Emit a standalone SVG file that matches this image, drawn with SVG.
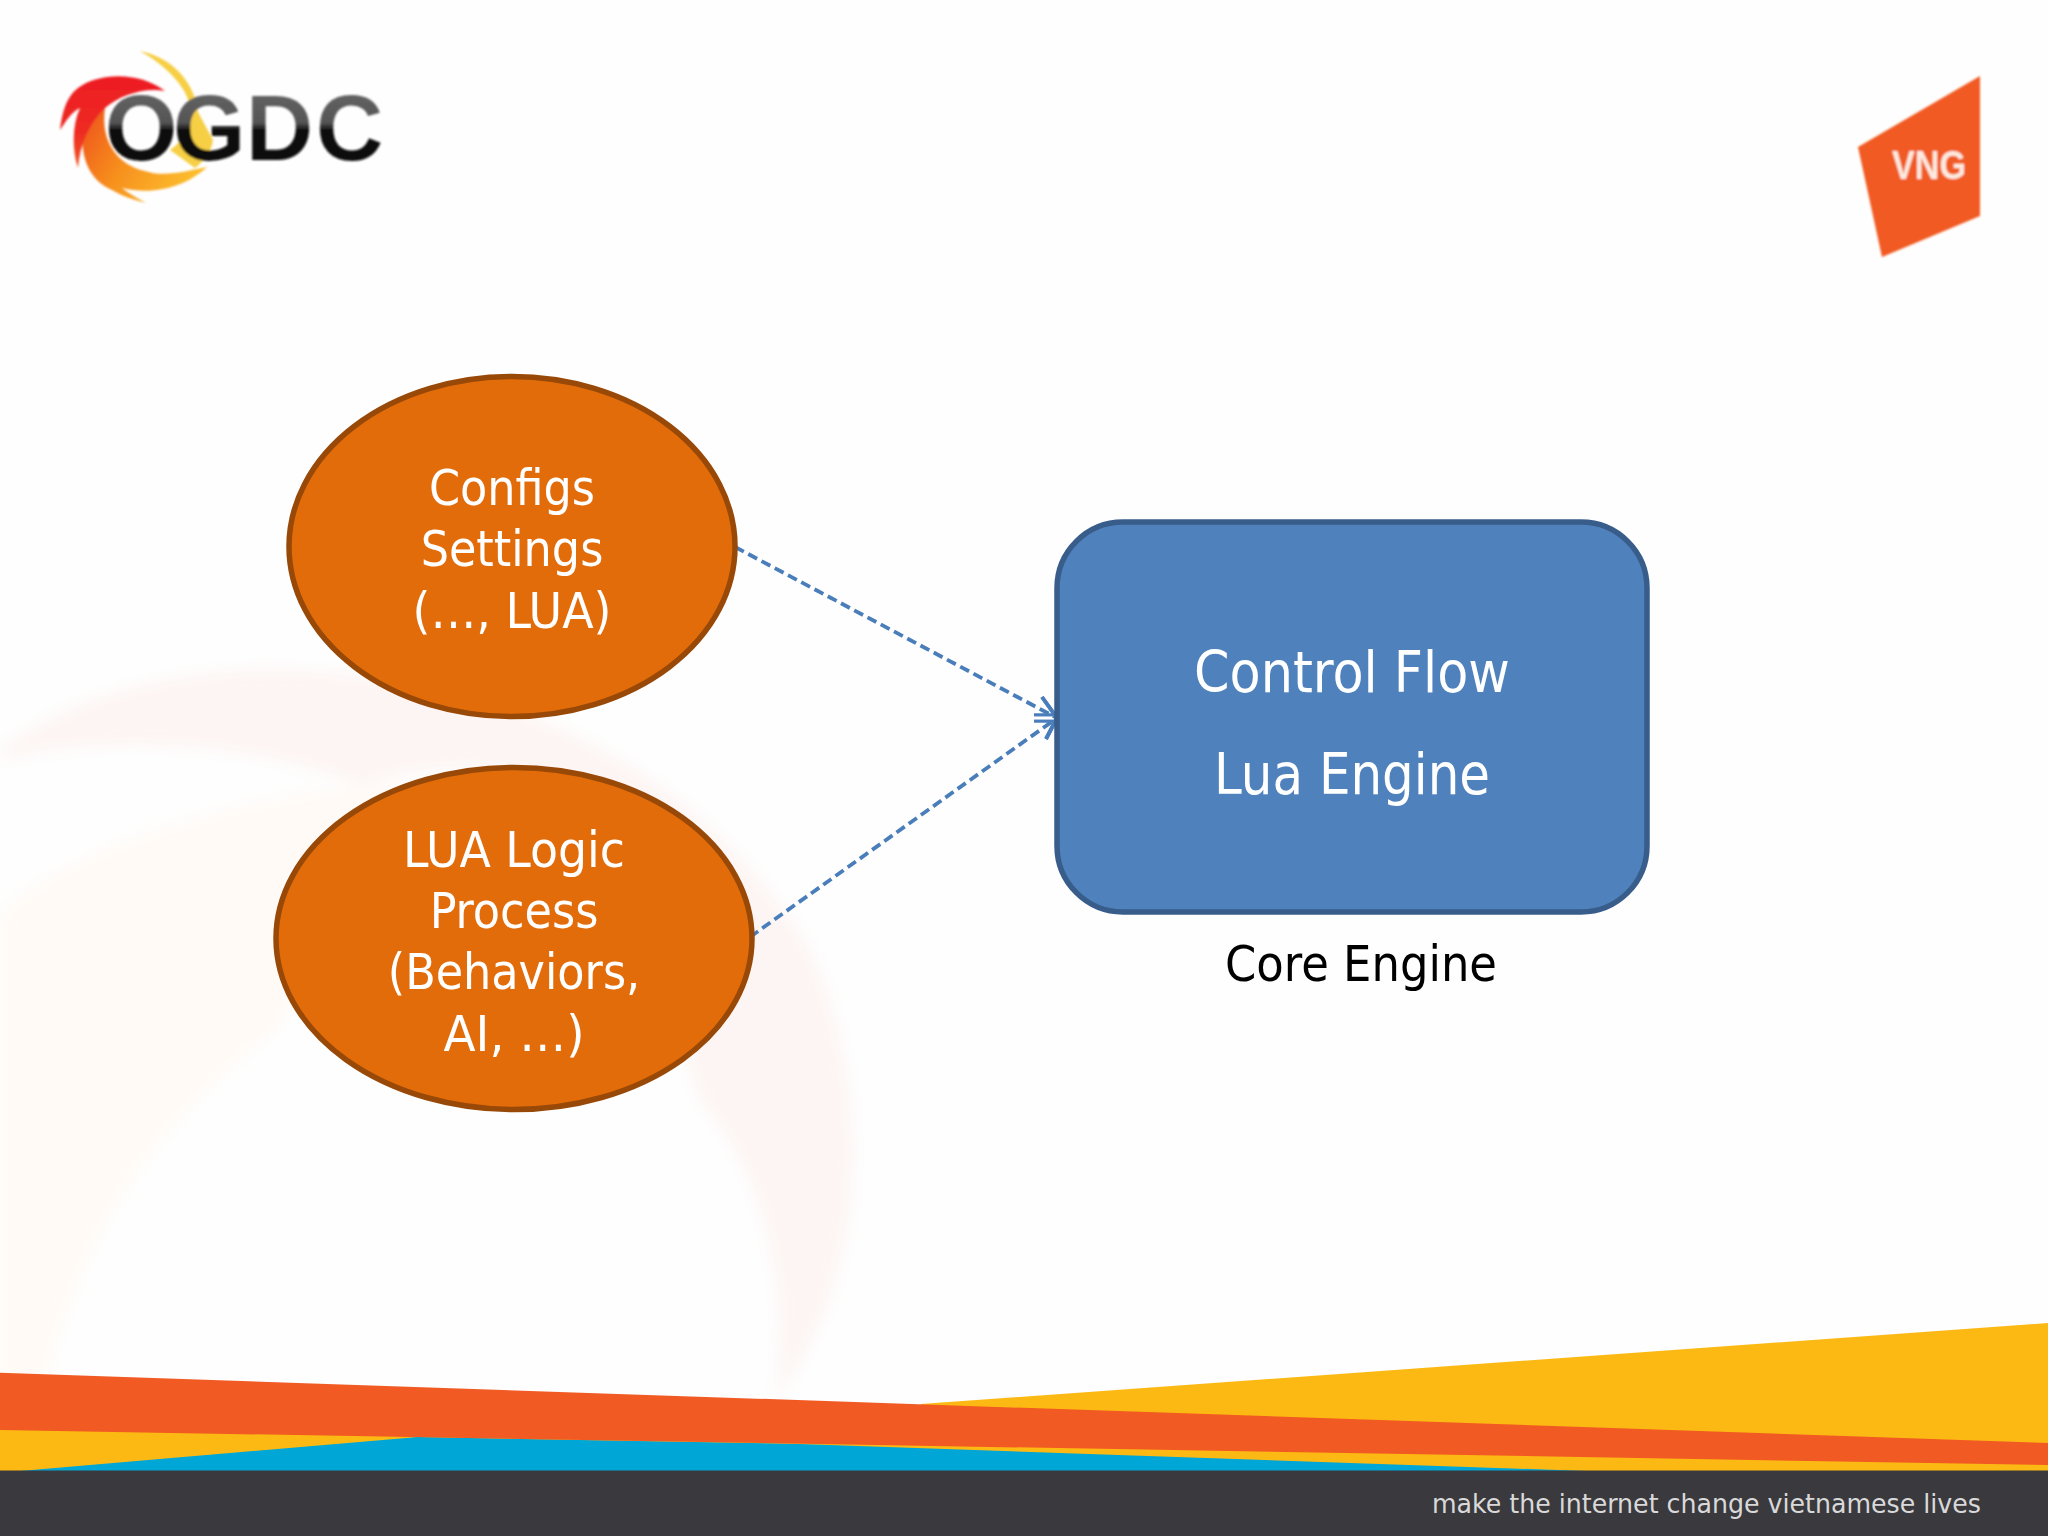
<svg xmlns="http://www.w3.org/2000/svg" width="2048" height="1536" viewBox="0 0 2048 1536">
<style>
.n{font-family:"DejaVu Sans Condensed","DejaVu Sans","Liberation Sans",sans-serif;text-anchor:middle;fill:#fff}
.o{fill:#e36c0a;stroke:#984807;stroke-width:5.5}
.e{font-size:49.5px}
.r{font-size:56.5px}
.c{stroke:#4a7ebb;stroke-width:3.8;stroke-dasharray:10 5;fill:none;marker-end:url(#head)}
</style>
<defs>
<marker id="head" markerUnits="userSpaceOnUse" markerWidth="40" markerHeight="50" viewBox="-30 -25 40 50" refX="0" refY="0" orient="0" overflow="visible">
<path d="M-15,-21 L0,0 L-11,21" fill="none" stroke="#4a7ebb" stroke-width="3.8"/>
<path d="M-23,-3.2 H-2 M-23,3.2 H-2" fill="none" stroke="#4a7ebb" stroke-width="2.8"/>
</marker>
<linearGradient id="ink" x1="0" y1="0" x2="0" y2="1"><stop offset="0" stop-color="#6a6a6a"/><stop offset="0.45" stop-color="#555"/><stop offset="0.52" stop-color="#111"/><stop offset="1" stop-color="#0c0c0c"/></linearGradient>
<linearGradient id="swirl" x1="0" y1="0" x2="1" y2="0.5"><stop offset="0" stop-color="#ee4f1f"/><stop offset="0.5" stop-color="#f7901e"/><stop offset="1" stop-color="#fcbc2c"/></linearGradient>
<linearGradient id="flare" x1="0" y1="0" x2="0" y2="1"><stop offset="0" stop-color="#ed1c24"/><stop offset="0.6" stop-color="#ee2b24"/><stop offset="1" stop-color="#f15a22"/></linearGradient>
<filter id="soft" x="-10%" y="-10%" width="120%" height="120%"><feGaussianBlur stdDeviation="1"/></filter>
<filter id="haze" x="-10%" y="-10%" width="120%" height="120%"><feGaussianBlur stdDeviation="8"/></filter>
</defs>
<rect width="2048" height="1536" fill="#fefefe"/>
<g id="background" filter="url(#haze)">
<path d="M0,750 C80,690 200,660 330,672 C560,690 720,800 810,950 C870,1080 875,1270 775,1400 C790,1300 770,1180 700,1100 L600,800 C520,760 440,760 360,785 C250,740 100,735 0,760Z" fill="#fdf5f3"/>
<path d="M0,915 C60,860 180,810 360,785 L440,790 L275,1030 C130,1140 75,1260 40,1400 L0,1400Z" fill="#fffaf5"/>
</g>
<g id="ogdc-logo" filter="url(#soft)">
<path d="M140,51 C175,58 195,85 198,112 L213,140 C212,150 205,160 195,168 L170,150 C185,140 192,125 190,105 C185,85 165,65 140,51Z" fill="#f6cf45"/>
<path d="M83,133 C80,160 92,182 112,190 C122,196 134,200 146,203 C137,198 128,193 122,188 C155,196 187,186 207,167 C190,170 165,178 145,171 C118,165 100,142 105,108 C92,112 85,122 83,133Z" fill="url(#swirl)"/>
<path d="M165,91 C140,72 100,72 78,88 C65,98 62,115 60,130 C68,118 72,112 80,108 C72,125 72,150 78,168 C80,145 88,125 105,108 C120,95 145,87 165,91Z" fill="url(#flare)"/>
<text y="160" x="105 173 246 316" font-family="'Liberation Sans',sans-serif" font-weight="700" font-size="93" fill="url(#ink)">OGDC</text>
</g>
<g id="vng-logo" filter="url(#soft)">
<polygon points="1858,147 1980,76 1980,216 1882,257" fill="#f15a22"/>
<text x="1892" y="179" font-family="'Liberation Sans',sans-serif" font-weight="700" font-size="41" fill="#fdeadf" textLength="74" lengthAdjust="spacingAndGlyphs">VNG</text>
</g>
<g id="footer">
<polygon points="921,1404 2048,1323 2048,1450 921,1420" fill="#fdb913"/>
<polygon points="0,1425 1000,1440 2048,1460 2048,1471 0,1471" fill="#fdb913"/>
<polygon points="20,1471 418,1437 800,1444 1586,1471" fill="#00a6d6"/>
<polygon points="0,1372.7 2048,1443 2048,1465 0,1430" fill="#f15a22"/>
<rect y="1470.5" width="2048" height="65.5" fill="#3a3a3e"/>
<text x="1432" y="1513" font-family="'DejaVu Sans Condensed','DejaVu Sans',sans-serif" font-size="27" fill="#d9d9d9" textLength="549" lengthAdjust="spacingAndGlyphs">make the internet change vietnamese lives</text>
</g>
<g id="connectors">
<line class="c" x1="735" y1="547" x2="1057" y2="718"/>
<line class="c" x1="750" y1="937" x2="1057" y2="718"/>
</g>
<g id="node-configs">
<ellipse class="o" cx="512" cy="546.5" rx="223" ry="170"/>
<text class="n e" x="512" y="505">Configs</text>
<text class="n e" x="512" y="566">Settings</text>
<text class="n e" x="512" y="628" textLength="199" lengthAdjust="spacingAndGlyphs">(…, LUA)</text>
</g>
<g id="node-lua-logic">
<ellipse class="o" cx="514" cy="938.5" rx="238" ry="171"/>
<text class="n e" x="514" y="867" textLength="222" lengthAdjust="spacingAndGlyphs">LUA Logic</text>
<text class="n e" x="514" y="928">Process</text>
<text class="n e" x="514" y="989">(Behaviors,</text>
<text class="n e" x="514" y="1051" textLength="141" lengthAdjust="spacingAndGlyphs">AI, …)</text>
</g>
<g id="node-core">
<rect x="1057" y="522" width="590" height="390" rx="66" ry="66" fill="#4f81bd" stroke="#385d8a" stroke-width="5.5"/>
<text class="n r" x="1352" y="692">Control Flow</text>
<text class="n r" x="1352" y="794" textLength="276" lengthAdjust="spacingAndGlyphs">Lua Engine</text>
</g>
<text id="label-core-engine" class="n e" style="fill:#000" x="1361" y="981" textLength="272" lengthAdjust="spacingAndGlyphs">Core Engine</text>
</svg>
